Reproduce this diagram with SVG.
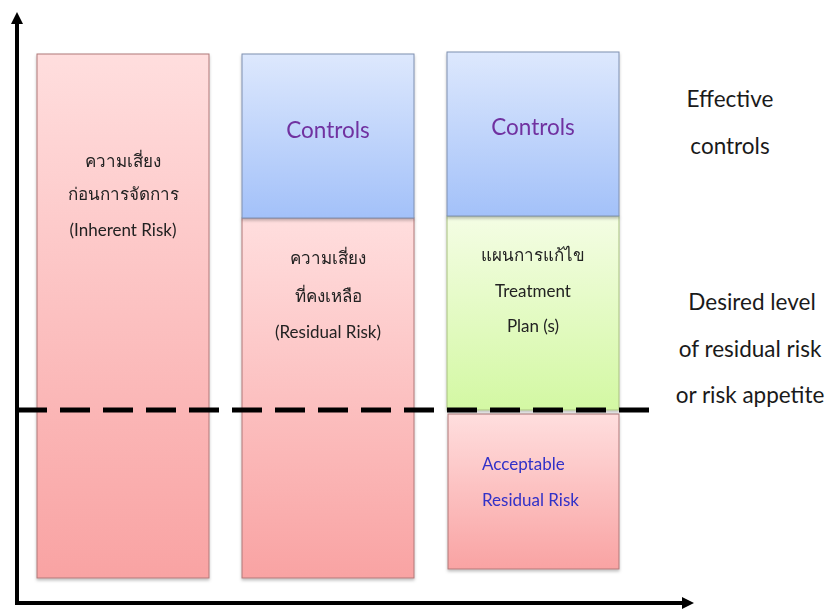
<svg xmlns="http://www.w3.org/2000/svg" width="832" height="609" viewBox="0 0 832 609">
<style>
text{font-family:"Lato","Noto Sans","DejaVu Sans",sans-serif;text-anchor:middle}
.b{font-size:17px;fill:#222}
.c{font-size:22.5px;fill:#7030a0}
.a{font-size:17px;fill:#3030c8;text-anchor:start}
.r{font-size:22.5px;fill:#1a1a1a}
.pk{fill:url(#pink);stroke:#b07878;stroke-width:1}
.bl{fill:url(#blue);stroke:#7f90b0;stroke-width:1}
.gr{fill:url(#green);stroke:#a8c080;stroke-width:1}
</style>
<defs>
<linearGradient id="pink" x1="0" y1="0" x2="0" y2="1"><stop offset="0" stop-color="#ffdede"/><stop offset="1" stop-color="#f9a3a3"/></linearGradient>
<linearGradient id="blue" x1="0" y1="0" x2="0" y2="1"><stop offset="0" stop-color="#dde8fd"/><stop offset="1" stop-color="#a3c1f9"/></linearGradient>
<linearGradient id="green" x1="0" y1="0" x2="0" y2="1"><stop offset="0" stop-color="#f4fde4"/><stop offset="1" stop-color="#d3f8a3"/></linearGradient>
<filter id="sh" x="-5%" y="-5%" width="115%" height="115%"><feDropShadow dx="0" dy="2" stdDeviation="1.5" flood-color="#000" flood-opacity="0.25"/></filter>
<marker id="ah" markerWidth="12" markerHeight="12" refX="6" refY="6" orient="auto" markerUnits="userSpaceOnUse"><path d="M0,0 L12,6 L0,12 Z" fill="#000"/></marker>
</defs>
<g id="box1" filter="url(#sh)">
<rect class="pk" x="37" y="54" width="172" height="524"/>
<text class="b" x="123" y="167">ความเสี่ยง</text>
<text class="b" x="123" y="200">ก่อนการจัดการ</text>
<text class="b" x="123" y="236">(Inherent Risk)</text>
</g>
<g id="box2-lower" filter="url(#sh)">
<rect class="pk" x="242" y="218" width="172" height="360"/>
<text class="b" x="328" y="264">ความเสี่ยง</text>
<text class="b" x="328" y="302">ที่คงเหลือ</text>
<text class="b" x="328" y="338">(Residual Risk)</text>
</g>
<g id="box2-controls" filter="url(#sh)">
<rect class="bl" x="242" y="54" width="172" height="164"/>
<text class="c" x="328" y="138">Controls</text>
</g>
<g id="box3-lower" filter="url(#sh)">
<rect class="pk" x="448" y="414" width="171" height="155"/>
<text class="a" x="482" y="470">Acceptable</text>
<text class="a" x="482" y="506">Residual Risk</text>
</g>
<g id="box3-plan" filter="url(#sh)">
<rect class="gr" x="447" y="216" width="172" height="194"/>
<text class="b" x="533" y="261">แผนการแก้ไข</text>
<text class="b" x="533" y="297">Treatment</text>
<text class="b" x="533" y="332">Plan (s)</text>
</g>
<g id="box3-controls" filter="url(#sh)">
<rect class="bl" x="447" y="52" width="172" height="164"/>
<text class="c" x="533" y="135">Controls</text>
</g>
<g id="labels">
<text class="r" x="730" y="107">Effective</text>
<text class="r" x="730" y="154">controls</text>
<text class="r" x="752" y="310">Desired level</text>
<text class="r" x="750" y="357">of residual risk</text>
<text class="r" x="750" y="403">or risk appetite</text>
</g>
<g id="connectors">
<line x1="17" y1="605" x2="17" y2="18" stroke="#000" stroke-width="4" marker-end="url(#ah)"/>
<line x1="15" y1="603" x2="688" y2="603" stroke="#000" stroke-width="4" marker-end="url(#ah)"/>
<line x1="17" y1="410" x2="649" y2="410" stroke="#000" stroke-width="5" stroke-dasharray="30,13"/>
</g>
</svg>
